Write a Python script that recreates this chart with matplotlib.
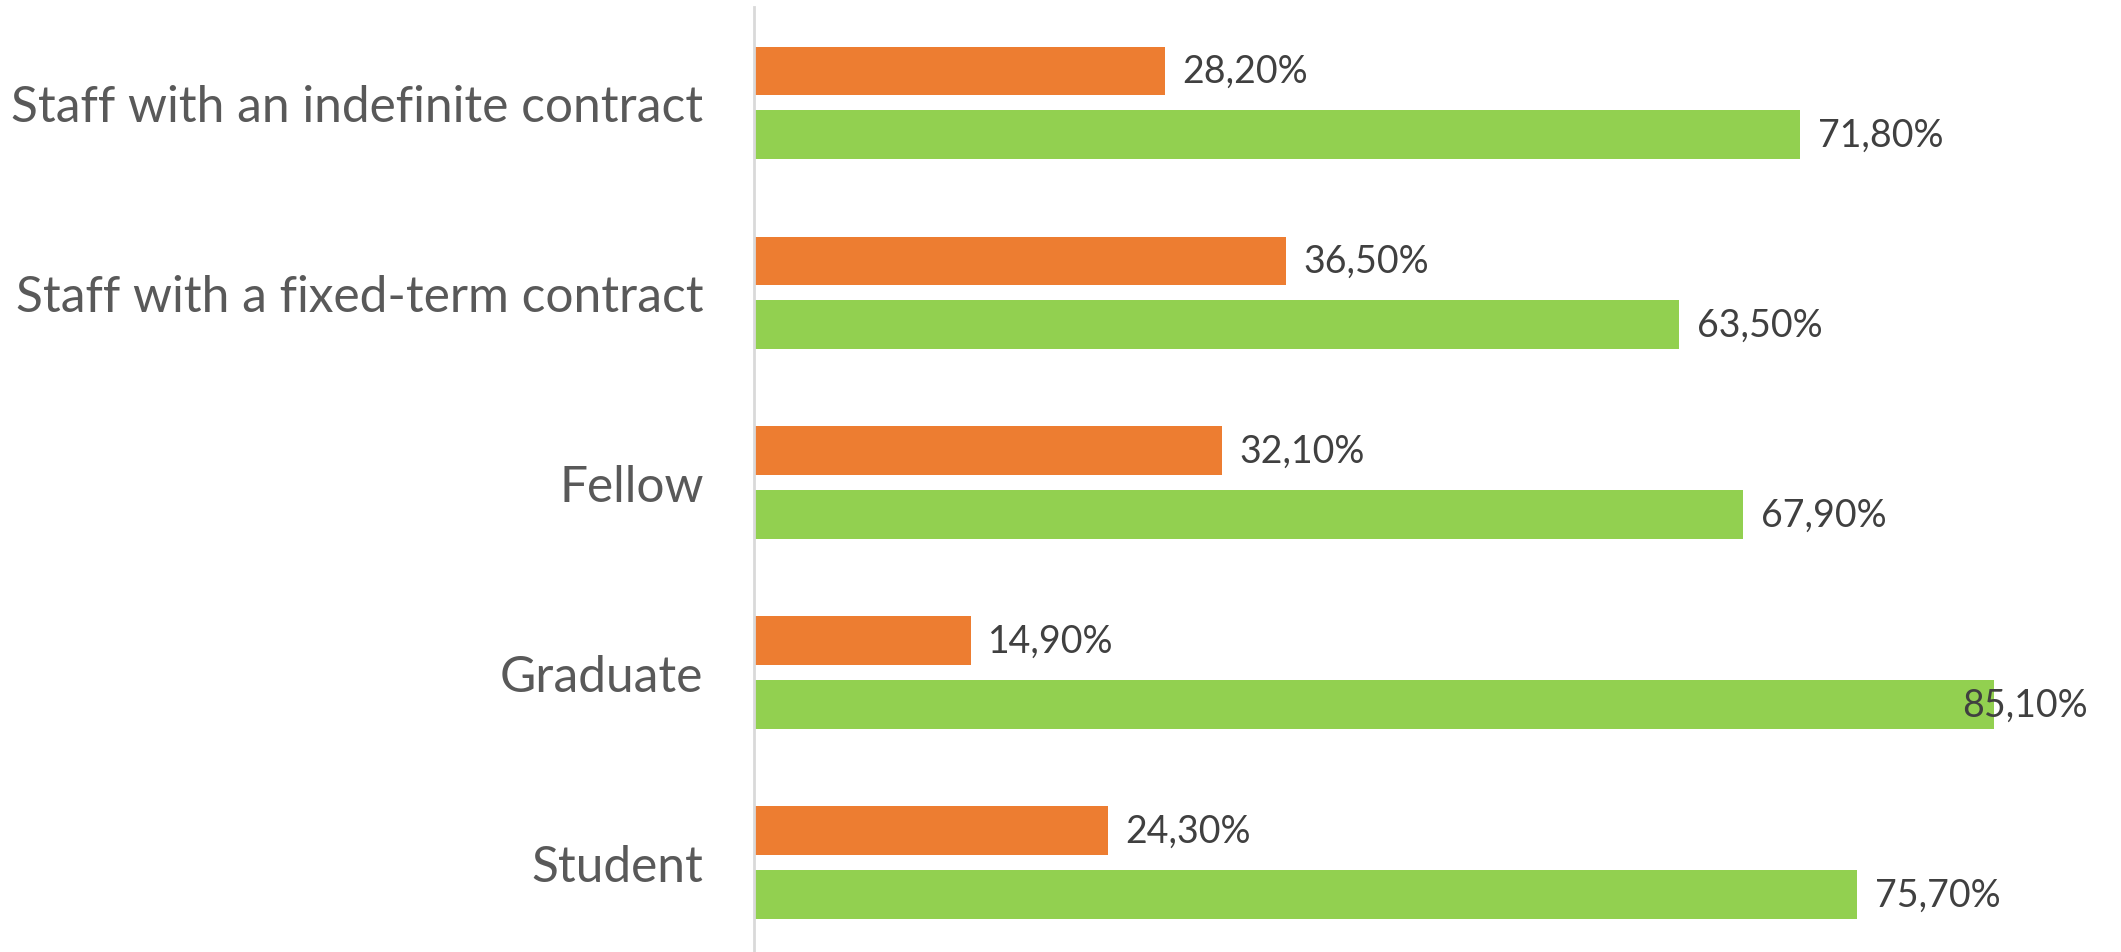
import numpy as np
import matplotlib.pyplot as plt

categories = ['Staff with an indefinite contract', 'Staff with a fixed-term contract',
              'Fellow', 'Graduate', 'Student']
orange_vals = [28.2, 36.5, 32.1, 14.9, 24.3]
green_vals = [71.8, 63.5, 67.9, 85.1, 75.7]

orange = '#ED7D31'
green = '#92D050'

plt.rcParams['font.family'] = ['Lato', 'DejaVu Sans']

fig = plt.figure(figsize=(21.21, 9.53), dpi=100)
ax = fig.add_axes([753.5 / 2121, 0, (2088 - 753.5) / 2121, 1 - 8 / 953])

y = np.arange(len(categories))[::-1]
h = 0.256
off = 0.167
ax.barh(y + off, orange_vals, height=h, color=orange)
ax.barh(y - off, green_vals, height=h, color=green)

xmax = (2088 - 753.5) / 14.58
ax.set_xlim(0, xmax)
ax.set_ylim(-0.471, 4.503)

def fmt(v):
    return f'{v:.2f}%'.replace('.', ',')

pad = 17.6 / 14.58
for yy, v in zip(y + off, orange_vals):
    ax.text(v + pad, yy, fmt(v), va='center', ha='left', fontsize=27, color='#404040')
for yy, v in zip(y - off, green_vals):
    if v + pad + 9 > xmax:
        ax.text(xmax, yy, fmt(v), va='center', ha='right', fontsize=27, color='#404040')
    else:
        ax.text(v + pad, yy, fmt(v), va='center', ha='left', fontsize=27, color='#404040')

ax.set_yticks(y)
ax.set_yticklabels(categories, fontsize=35.7, color='#595959')
ax.tick_params(axis='y', length=0, pad=36)
ax.set_xticks([])
for s in ['top', 'right', 'bottom']:
    ax.spines[s].set_visible(False)
ax.spines['left'].set_color('#D9D9D9')
ax.spines['left'].set_linewidth(2)

fig.savefig('out.png', dpi=100)
